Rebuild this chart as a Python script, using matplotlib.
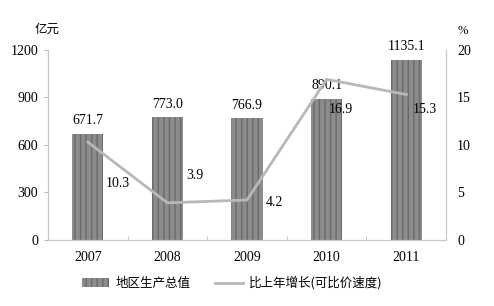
import matplotlib
matplotlib.use("Agg")
import matplotlib.pyplot as plt
from matplotlib.lines import Line2D
from matplotlib.patches import Patch

years = ["2007", "2008", "2009", "2010", "2011"]
gdp = [671.7, 773.0, 766.9, 890.1, 1135.1]
growth = [10.3, 3.9, 4.2, 16.9, 15.3]
left_ticks = [0, 300, 600, 900, 1200]
right_ticks = [0, 5, 10, 15, 20]
growth_offsets = [(22, -30), (20, 20), (20, -2), (10, -22), (13, -11)]

cjk = ['Noto Sans CJK SC', 'DejaVu Sans']
num_font = 'Liberation Serif'

fig = plt.figure(figsize=(4.94, 3.06), dpi=100)
ax = fig.add_axes([0.097, 0.216, 0.806, 0.621])
ax2 = ax.twinx()

x = list(range(len(years)))
ax.bar(x, gdp, width=0.39, color='#8c8c8c', edgecolor='#6a6a6a',
       hatch='|||', linewidth=0, zorder=2)
ax.set_ylim(0, 1200)
ax.set_xlim(-0.5, 4.5)
ax.set_yticks(left_ticks)
ax.set_xticks(x)
ax.set_xticklabels(years, fontfamily=num_font, fontsize=10)
ax.set_xticks([0.5, 1.5, 2.5, 3.5], minor=True)
for lab in ax.get_yticklabels():
    lab.set_fontfamily(num_font)
    lab.set_fontsize(10)
ax.tick_params(axis='x', which='major', length=0, pad=8)
ax.tick_params(axis='x', which='minor', length=3, direction='in', color='#bbbbbb')
ax.tick_params(axis='y', length=3, color='#bbbbbb', pad=4)

for xi, v in zip(x, gdp):
    ax.annotate(f"{v:.1f}", (xi, v), xytext=(0, 5), textcoords='offset points',
                ha='center', va='bottom', fontfamily=num_font, fontsize=10)

ax2.plot(x, growth, color='#b8b8b8', lw=2, zorder=3)
ax2.set_ylim(0, 20)
ax2.set_yticks(right_ticks)
for lab in ax2.get_yticklabels():
    lab.set_fontfamily(num_font)
    lab.set_fontsize(10)
ax2.tick_params(axis='y', length=0, pad=8)
for xi, v, off in zip(x, growth, growth_offsets):
    ax2.annotate(f"{v:.1f}", (xi, v), xytext=off, textcoords='offset points',
                 ha='center', va='center', fontfamily=num_font, fontsize=10)

for a in (ax, ax2):
    a.spines['top'].set_visible(False)
    for s in ['left', 'right', 'bottom']:
        a.spines[s].set_color('#c8c8c8')

fig.text(0.07, 0.905, "亿元", fontfamily=cjk, fontsize=9, ha='left', va='center')
fig.text(0.937, 0.9, "%", fontfamily=num_font, fontsize=9, ha='center', va='center')

handles = [Patch(facecolor='#8c8c8c', edgecolor='#6a6a6a', hatch='|||', linewidth=0),
           Line2D([0], [0], color='#b8b8b8', lw=2)]
labels = ["地区生产总值", "比上年增长(可比价速度)"]
fig.legend(handles, labels, loc='center', bbox_to_anchor=(0.47, 0.075), ncol=2,
           frameon=False, prop={'family': cjk, 'size': 9}, handlelength=2.2,
           columnspacing=2.0, handletextpad=0.5)

fig.savefig("out.png", dpi=100)
